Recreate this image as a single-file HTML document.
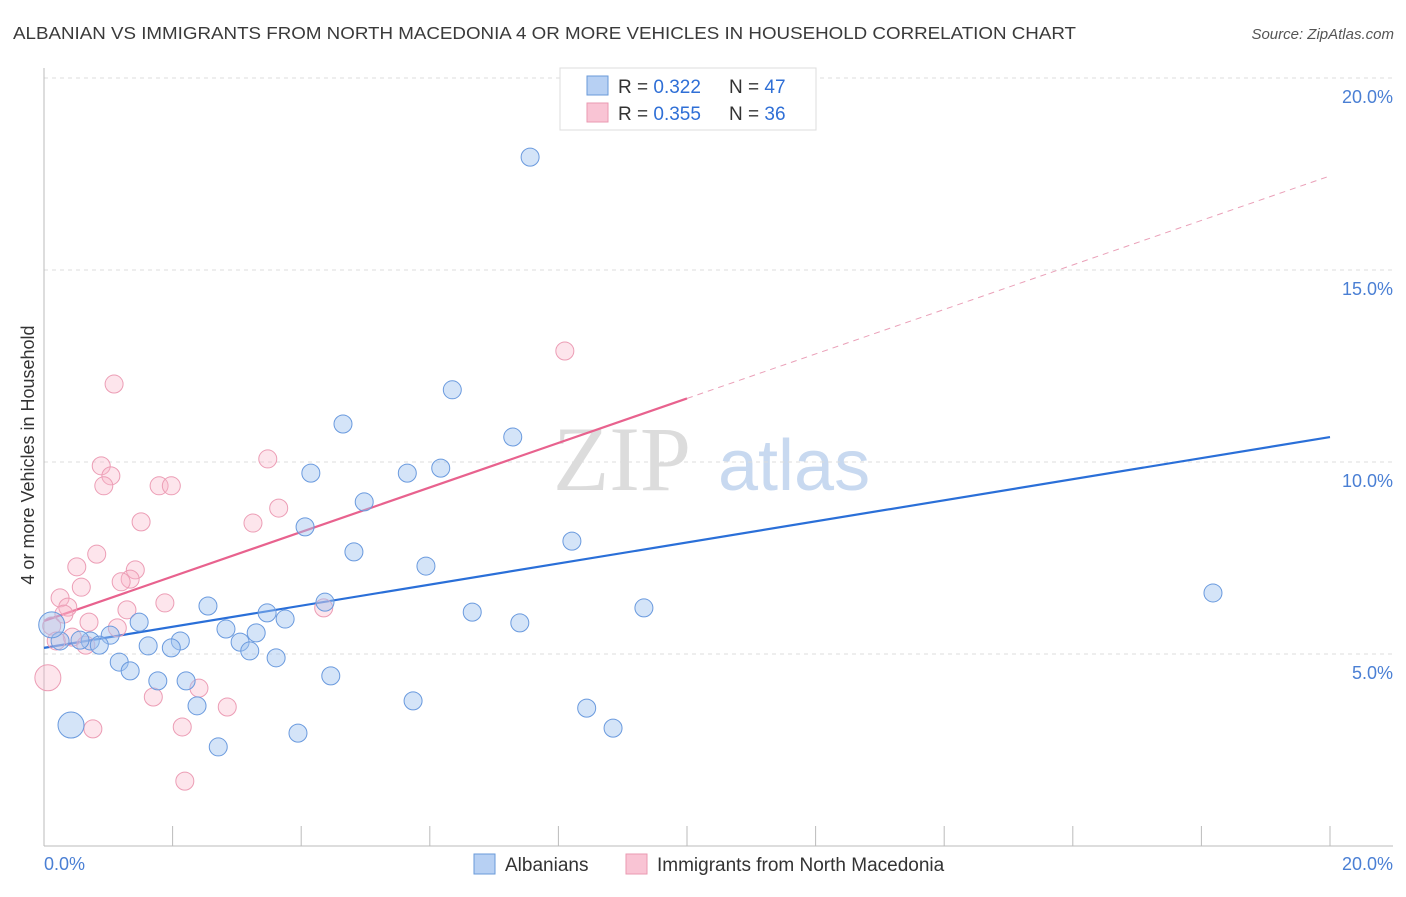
<!DOCTYPE html>
<html><head><meta charset="utf-8"><style>
body{margin:0;background:#fff;font-family:"Liberation Sans",sans-serif}
svg text{font-family:"Liberation Sans",sans-serif}
</style></head><body>
<svg id="chart" width="1406" height="892" viewBox="0 0 1406 892" xmlns="http://www.w3.org/2000/svg">
<text x="13" y="39" font-size="17.5" fill="#3a3a3a" textLength="1063" lengthAdjust="spacingAndGlyphs">ALBANIAN VS IMMIGRANTS FROM NORTH MACEDONIA 4 OR MORE VEHICLES IN HOUSEHOLD CORRELATION CHART</text>
<text x="1394" y="39" font-size="15" fill="#555" font-style="italic" text-anchor="end">Source: ZipAtlas.com</text>
<g>
<text x="553" y="490" font-size="92" fill="#dcdcdc" font-family="Liberation Serif" style="font-family:'Liberation Serif',serif">ZIP</text>
<text x="718" y="490" font-size="72" fill="#c8d9f0">atlas</text>
</g>
<g id="grid"></g>
<g id="axes"></g>
<g id="lines"></g>
<g id="points"></g>
<g>
<rect x="560" y="68" width="256" height="62" fill="#fff" stroke="#ddd"/>
<rect x="587" y="76" width="21" height="19" fill="#b7d0f3" stroke="#6a9ad8"/>
<rect x="587" y="103" width="21" height="19" fill="#f9c4d4" stroke="#ea9ab2"/>
<text x="618" y="93" font-size="19" fill="#333">R = <tspan fill="#2f6fd6">0.322</tspan></text>
<text x="729" y="93" font-size="19" fill="#333">N = <tspan fill="#2f6fd6">47</tspan></text>
<text x="618" y="120" font-size="19" fill="#333">R = <tspan fill="#2f6fd6">0.355</tspan></text>
<text x="729" y="120" font-size="19" fill="#333">N = <tspan fill="#2f6fd6">36</tspan></text>
</g>
<g>
<rect x="474" y="854" width="21" height="20" fill="#b7d0f3" stroke="#6a9ad8"/>
<text x="505" y="871" font-size="19" fill="#333">Albanians</text>
<rect x="626" y="854" width="21" height="20" fill="#f9c4d4" stroke="#ea9ab2"/>
<text x="657" y="871" font-size="19" fill="#333">Immigrants from North Macedonia</text>
</g>
<text transform="translate(34,455) rotate(-90)" font-size="18" fill="#333" text-anchor="middle">4 or more Vehicles in Household</text>
</svg>
<script>
const blueX=[7.56,6.35,4.65,7.29,4.15,5.65,6.17,4.98,4.06,8.21,4.82,5.94,18.18,4.37,2.55,3.47,6.66,9.33,3.75,7.40,1.48,1.03,2.83,3.30,2.12,0.72,0.86,1.62,1.98,3.05,3.20,3.61,1.17,1.34,4.46,1.77,2.21,5.74,2.38,8.44,8.85,3.95,2.71,0.42,0.25,0.12,0.56];
const blueY=[17.94,11.88,10.99,10.65,9.71,9.71,9.84,8.96,8.31,7.94,7.66,7.29,6.59,6.35,6.25,6.07,6.09,6.20,5.91,5.81,5.83,5.49,5.65,5.55,5.34,5.34,5.23,5.21,5.16,5.31,5.08,4.90,4.79,4.56,4.43,4.30,4.30,3.78,3.65,3.59,3.07,2.94,2.58,3.15,5.34,5.76,5.36];
const blueBig=[43,45];
const pinkX=[8.10,1.09,3.48,0.89,1.04,0.93,1.79,1.98,3.65,1.51,3.25,0.82,0.51,1.42,1.34,1.20,0.58,0.25,1.88,0.37,1.29,4.35,0.31,0.70,1.14,0.12,0.44,0.19,0.65,0.06,2.41,1.70,2.85,2.15,0.76,2.19];
const pinkY=[12.89,12.03,10.08,9.90,9.64,9.38,9.38,9.38,8.80,8.44,8.41,7.60,7.27,7.19,6.95,6.88,6.74,6.46,6.33,6.22,6.15,6.20,6.04,5.83,5.68,5.73,5.44,5.34,5.23,4.38,4.11,3.88,3.62,3.10,3.05,1.69];
const pinkBig=[29];
const yTicks=[5,10,15,20];
const yTickLabels=["5.0%","10.0%","15.0%","20.0%"];
const blueTrend=[5.16,10.65];
const pinkTrend=[5.86,17.45];
const pinkSolidEnd=10;

const NS="http://www.w3.org/2000/svg";
const X0=44,X1=1330,Y0=846,PXY=38.4;
function sx(v){return X0+(X1-X0)*v/20;}
function sy(v){return Y0-v*PXY;}
function mk(tag,attrs,parent){const e=document.createElementNS(NS,tag);for(const k in attrs)e.setAttribute(k,attrs[k]);parent.appendChild(e);return e;}
const grid=document.getElementById('grid'),axes=document.getElementById('axes'),lines=document.getElementById('lines'),pts=document.getElementById('points');
yTicks.forEach((t,i)=>{
  const l=mk('line',{x1:44,x2:1393,y1:sy(t),y2:sy(t),stroke:'#ddd','stroke-dasharray':'4,4'},grid);
  
  
  const tx=mk('text',{x:1393,y:sy(t)+25,'font-size':18,fill:'#4a7fd4','text-anchor':'end'},grid);
  tx.textContent=yTickLabels[i];
  
  
});
mk('line',{x1:44,x2:44,y1:68,y2:846,stroke:'#bbb'},axes);
mk('line',{x1:44,x2:1393,y1:846,y2:846,stroke:'#bbb'},axes);
for(let i=0;i<=10;i++){const t=mk('line',{x1:sx(i*2),x2:sx(i*2),y1:826,y2:846,stroke:'#bbb'},axes);
  
  }
let a=mk('text',{x:44,y:870,'font-size':18,fill:'#4a7fd4'},axes);a.textContent="0.0%";


a=mk('text',{x:1393,y:870,'font-size':18,fill:'#4a7fd4','text-anchor':'end'},axes);a.textContent="20.0%";



function dots(xs,ys,big,fill,stroke,name){
  xs.forEach((x,i)=>{const c=mk('circle',{cx:sx(x),cy:sy(ys[i]),r:big.includes(i)?13:9,fill:fill,stroke:stroke,'stroke-width':1},pts);
    
    });
}
dots(pinkX,pinkY,pinkBig,'rgba(248,180,200,0.35)','#ec9db5','point-north-macedonia');
dots(blueX,blueY,blueBig,'rgba(160,196,240,0.45)','#6a9ade','point-albanian');
const pm=(pinkTrend[1]-pinkTrend[0])/20;
let l=mk('line',{x1:sx(0),y1:sy(blueTrend[0]),x2:sx(20),y2:sy(blueTrend[1]),stroke:'#2a6fd8','stroke-width':2.2},lines);


l=mk('line',{x1:sx(0),y1:sy(pinkTrend[0]),x2:sx(pinkSolidEnd),y2:sy(pinkTrend[0]+pm*pinkSolidEnd),stroke:'#e8628e','stroke-width':2.2},lines);


l=mk('line',{x1:sx(pinkSolidEnd),y1:sy(pinkTrend[0]+pm*pinkSolidEnd),x2:sx(20),y2:sy(pinkTrend[1]),stroke:'#eaa0b8','stroke-width':1,'stroke-dasharray':'6,5'},lines);


</script>
</body></html>
